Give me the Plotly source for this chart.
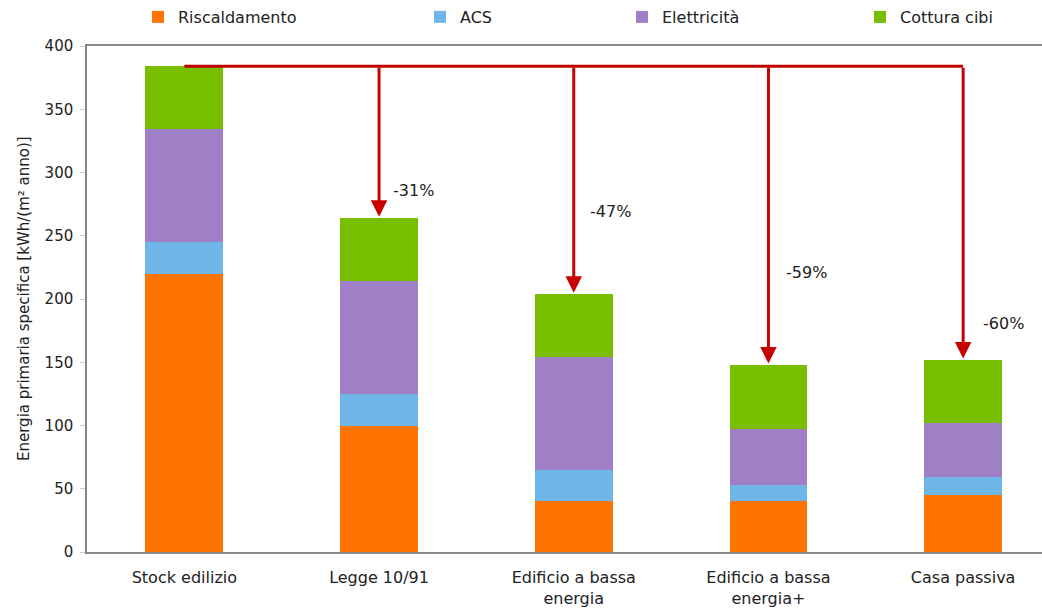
import plotly.graph_objects as go

categories = ["Stock edilizio", "Legge 10/91", "Edificio a bassa<br>energia",
              "Edificio a bassa<br>energia+", "Casa passiva"]
riscaldamento = [220, 100, 40, 40, 45]
acs = [25, 25, 25, 13, 14]
elettricita = [89, 89, 89, 44, 43]
cottura = [50, 50, 50, 51, 50]
reductions = ["", "-31%", "-47%", "-59%", "-60%"]
label_y = [0, 286, 269, 221, 181]

series = [
    ("Riscaldamento", riscaldamento, "#ff7300", "legend"),
    ("ACS", acs, "#6fb6e8", "legend2"),
    ("Elettricità", elettricita, "#9f80c6", "legend3"),
    ("Cottura cibi", cottura, "#77bf00", "legend4"),
]

HFONT = "DejaVu Sans, Liberation Sans, Arial"

fig = go.Figure()
for name, vals, col, lg in series:
    fig.add_trace(go.Bar(x=categories, y=vals, name=name, marker_color=col,
                         marker_line_width=0, width=0.4, legend=lg, showlegend=True))

totals = [sum(v) for v in zip(riscaldamento, acs, elettricita, cottura)]
top = totals[0]
idx = list(range(len(categories)))

fig.add_shape(type="line", xref="x", yref="y", x0=idx[0], x1=idx[-1], y0=top, y1=top,
              line=dict(color="#c00000", width=3))
for i in idx[1:]:
    fig.add_annotation(x=i, y=totals[i] + 1, ax=i, ay=top, xref="x", yref="y",
                       axref="x", ayref="y", showarrow=True, arrowhead=2,
                       arrowsize=1.1, arrowwidth=3, arrowcolor="#c80000", text="")
    fig.add_annotation(x=i, y=label_y[i], xref="x", yref="y", text=reductions[i],
                       showarrow=False, xanchor="left", xshift=10 + 2 * i,
                       font=dict(size=16, color="#222", family=HFONT))

W, L = 955, 87
def px(p):
    return (p - L) / W

# y-axis title as rotated annotation
fig.add_annotation(text="Energia primaria specifica [kWh/(m² anno)]", textangle=-90,
                   xref="paper", yref="paper", x=px(24), y=0.5,
                   xanchor="center", yanchor="middle", showarrow=False,
                   font=dict(size=15, color="#222", family=HFONT))

leg_common = dict(orientation="h", yanchor="middle", y=1.058, xanchor="left",
                  font=dict(size=16, color="#222", family=HFONT),
                  bgcolor="rgba(0,0,0,0)")
fig.update_layout(
    width=1042, height=609,
    margin=dict(l=87, r=0, t=45, b=57),
    plot_bgcolor="white", paper_bgcolor="white",
    font=dict(family=HFONT, size=14, color="#222"),
    barmode="stack",
    showlegend=True,
    legend=dict(x=px(178 - 40), **leg_common),
    legend2=dict(x=px(460 - 40), **leg_common),
    legend3=dict(x=px(662 - 40), **leg_common),
    legend4=dict(x=px(900 - 40), **leg_common),
    xaxis=dict(range=[-0.5, 4.405], showline=True, linecolor="#888", linewidth=1.5,
               mirror=True, ticks="", showgrid=False, ticklabelstandoff=10,
               tickfont=dict(size=16, family=HFONT)),
    yaxis=dict(range=[0, 400], dtick=50, showline=True, linecolor="#888", linewidth=1.5,
               ticks="outside", tickcolor="#ccc", ticklen=5, showgrid=False,
               zeroline=False, ticklabelstandoff=4, tickfont=dict(size=15, family=HFONT)),
)
fig.write_html("out.html")
